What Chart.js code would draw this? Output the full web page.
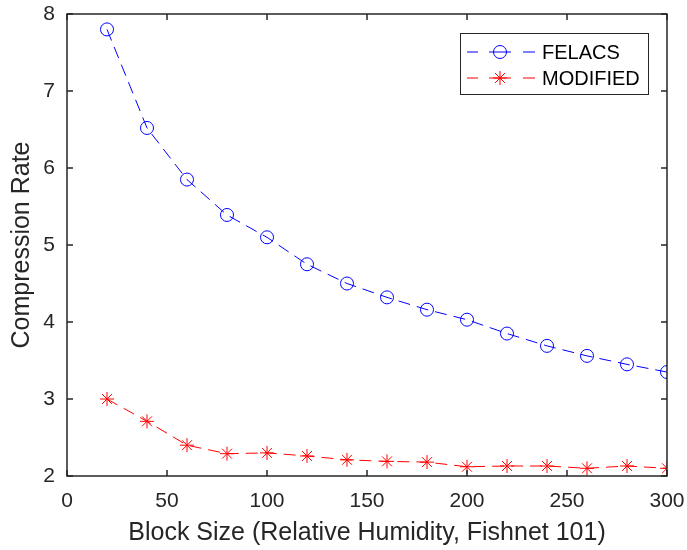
<!DOCTYPE html>
<html>
<head>
<meta charset="utf-8">
<script src="https://cdn.jsdelivr.net/npm/chart.js@4.4.0/dist/chart.umd.min.js"></script>
<style>
  html, body { margin: 0; padding: 0; background: #fff; }
  #wrap { width: 687px; height: 550px; }
</style>
</head>
<body>
<div id="wrap"><canvas id="c"></canvas></div>
<script>
// data
const blockSizes = [20, 40, 60, 80, 100, 120, 140, 160, 180, 200, 220, 240, 260, 280, 300];
const felacs = [7.80, 6.52, 5.85, 5.39, 5.10, 4.75, 4.50, 4.32, 4.16, 4.03, 3.85, 3.69, 3.56, 3.45, 3.35];
const modified = [3.00, 2.71, 2.40, 2.29, 2.30, 2.26, 2.21, 2.19, 2.18, 2.12, 2.13, 2.13, 2.10, 2.13, 2.10];
const xTicks = [0, 50, 100, 150, 200, 250, 300];
const yTicks = [2, 3, 4, 5, 6, 7, 8];

const axisColor = '#262626';
const font = 'Arial, "Liberation Sans", Helvetica, sans-serif';

// box around the axes, inward ticks and the legend, matlab style
const matlabAxes = {
    id: 'matlabAxes',
    afterDraw(chart) {
        const ctx = chart.ctx;
        const a = chart.chartArea;
        const xs = chart.scales.x, ys = chart.scales.y;
        const tl = 6;
        ctx.save();
        ctx.strokeStyle = axisColor;
        ctx.lineWidth = 1.5;
        ctx.setLineDash([]);
        ctx.strokeRect(a.left, a.top, a.right - a.left, a.bottom - a.top);
        ctx.beginPath();
        xTicks.forEach(v => {
            const px = xs.getPixelForValue(v);
            ctx.moveTo(px, a.bottom); ctx.lineTo(px, a.bottom - tl);
            ctx.moveTo(px, a.top); ctx.lineTo(px, a.top + tl);
        });
        yTicks.forEach(v => {
            const py = ys.getPixelForValue(v);
            ctx.moveTo(a.left, py); ctx.lineTo(a.left + tl, py);
            ctx.moveTo(a.right, py); ctx.lineTo(a.right - tl, py);
        });
        ctx.stroke();

        // legend
        const lx = 460, ly = 33, lw = 188, lh = 61;
        ctx.fillStyle = '#fff';
        ctx.fillRect(lx, ly, lw, lh);
        ctx.lineWidth = 1;
        ctx.strokeStyle = axisColor;
        ctx.strokeRect(lx + 0.5, ly + 0.5, lw, lh);
        const rows = [
            { ds: chart.data.datasets[0], y: 52 },
            { ds: chart.data.datasets[1], y: 78 }
        ];
        rows.forEach(r => {
            ctx.strokeStyle = r.ds.borderColor;
            ctx.lineWidth = 1;
            ctx.setLineDash([]);
            ctx.beginPath();
            ctx.moveTo(467, r.y); ctx.lineTo(478, r.y);
            ctx.moveTo(523, r.y); ctx.lineTo(535, r.y);
            ctx.stroke();
            Chart.helpers.drawPoint(ctx, {
                pointStyle: r.ds.pointStyle,
                radius: r.ds.pointRadius,
                borderWidth: 1
            }, 500, r.y);
            ctx.beginPath();
            ctx.moveTo(489, r.y); ctx.lineTo(511, r.y);
            ctx.stroke();
            ctx.fillStyle = '#000';
            ctx.font = '20px ' + font;
            ctx.textBaseline = 'middle';
            ctx.textAlign = 'left';
            ctx.fillText(r.ds.label, 542, r.y + 1);
        });
        ctx.restore();
    }
};

new Chart(document.getElementById('c'), {
    type: 'line',
    data: {
        datasets: [
            {
                label: 'FELACS',
                data: blockSizes.map((x, i) => ({ x, y: felacs[i] })),
                borderColor: '#0000ff',
                backgroundColor: 'rgba(0,0,0,0)',
                borderWidth: 1,
                borderDash: [12, 7],
                pointStyle: 'circle',
                pointRadius: 6.5,
                pointBorderWidth: 1,
                pointBorderColor: '#0000ff',
                pointBackgroundColor: 'rgba(0,0,0,0)',
                tension: 0
            },
            {
                label: 'MODIFIED',
                data: blockSizes.map((x, i) => ({ x, y: modified[i] })),
                borderColor: '#ff0000',
                backgroundColor: 'rgba(0,0,0,0)',
                borderWidth: 1,
                borderDash: [12, 7],
                pointStyle: 'star',
                pointRadius: 7,
                pointBorderWidth: 1,
                pointBorderColor: '#ff0000',
                pointBackgroundColor: '#ff0000',
                tension: 0
            }
        ]
    },
    options: {
        responsive: true,
        maintainAspectRatio: false,
        animation: false,
        events: [],
        layout: { padding: { top: 14, right: 20, left: 0, bottom: 0 } },
        plugins: { legend: { display: false }, tooltip: { enabled: false } },
        scales: {
            x: {
                type: 'linear',
                min: 0, max: 300,
                afterBuildTicks: s => { s.ticks = xTicks.map(v => ({ value: v })); },
                afterFit: s => {
                    s.height = 74;
                    s.paddingLeft = 0; s.paddingRight = 0;
                },
                grid: { display: false, drawTicks: false },
                border: { display: false },
                ticks: { color: axisColor, font: { size: 21, family: font }, padding: 13 },
                title: {
                    display: true,
                    text: 'Block Size (Relative Humidity, Fishnet 101)',
                    color: axisColor,
                    font: { size: 25, family: font },
                    padding: { top: 0, bottom: 2 }
                }
            },
            y: {
                type: 'linear',
                min: 2, max: 8,
                afterBuildTicks: s => { s.ticks = yTicks.map(v => ({ value: v })); },
                afterFit: s => {
                    s.width = 67;
                    s.paddingTop = 0; s.paddingBottom = 0;
                },
                grid: { display: false, drawTicks: false },
                border: { display: false },
                ticks: { color: axisColor, font: { size: 21, family: font }, padding: 12 },
                title: {
                    display: true,
                    text: 'Compression Rate',
                    color: axisColor,
                    font: { size: 25, family: font },
                    padding: { top: 7, bottom: 0 }
                }
            }
        }
    },
    plugins: [matlabAxes]
});
</script>
</body>
</html>
